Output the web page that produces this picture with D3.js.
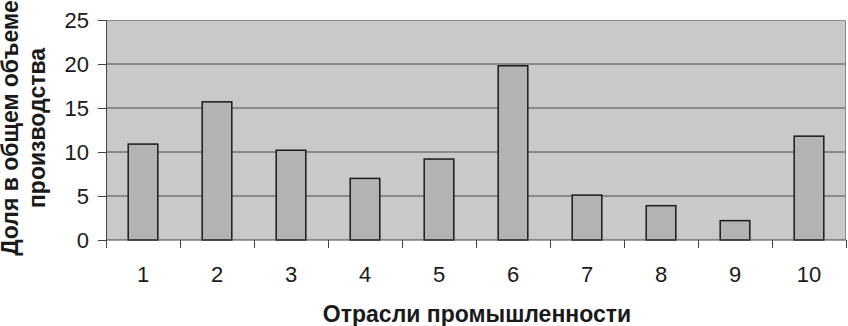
<!DOCTYPE html>
<html>
<head>
<meta charset="utf-8">
<script src="https://cdn.jsdelivr.net/npm/d3@7"></script>
<style>
  html, body { margin: 0; padding: 0; background: #fff; }
  svg text { font-family: "Liberation Sans", Arial, Helvetica, sans-serif; fill: #1a1a1a; }
</style>
</head>
<body>
<svg id="chart" width="848" height="326"></svg>
<script>
// data
const categories = ["1", "2", "3", "4", "5", "6", "7", "8", "9", "10"];
const values = [10.9, 15.7, 10.2, 7.0, 9.2, 19.8, 5.1, 3.9, 2.2, 11.8];
const yTicks = [0, 5, 10, 15, 20, 25];

const svg = d3.select("#chart");
const margin = { top: 20, right: 2, bottom: 86, left: 106 };
const W = +svg.attr("width"), H = +svg.attr("height");
const width = W - margin.left - margin.right;
const height = H - margin.top - margin.bottom;
const g = svg.append("g").attr("transform", `translate(${margin.left},${margin.top})`);

const x = d3.scaleBand().domain(categories).range([0, width]).padding(0);
const y = d3.scaleLinear().domain([0, 25]).range([height, 0]);
const barW = x.bandwidth() * 0.4;

// plot background
g.append("rect")
  .attr("width", width).attr("height", height)
  .attr("fill", "#c9c9c9");

// gridlines
g.append("g")
  .selectAll("line")
  .data(yTicks.filter(d => d > 0 && d < 25))
  .join("line")
  .attr("x1", 0).attr("x2", width)
  .attr("y1", d => y(d)).attr("y2", d => y(d))
  .attr("stroke", "#4d4d4d").attr("stroke-width", 1);

// top + right frame (light gray)
g.append("path")
  .attr("d", `M0,${y(25) + 0.5}H${width - 0.5}V${height}`)
  .attr("fill", "none").attr("stroke", "#8a8a8a").attr("stroke-width", 1);

// bars
g.append("g")
  .selectAll("rect")
  .data(values)
  .join("rect")
  .attr("x", (d, i) => x(categories[i]) + (x.bandwidth() - barW) / 2)
  .attr("y", d => y(d))
  .attr("width", barW)
  .attr("height", d => y(0) - y(d))
  .attr("fill", "#b3b3b3")
  .attr("stroke", "#1a1a1a").attr("stroke-width", 1.5);

// y axis
const yAxis = g.append("g")
  .call(d3.axisLeft(y).tickValues(yTicks).tickSize(8).tickPadding(9));
yAxis.select(".domain").attr("stroke", "#444");
yAxis.selectAll(".tick line").attr("stroke", "#444");
yAxis.selectAll("text").attr("font-size", "22px").attr("fill", "#1a1a1a");

// x axis: ticks on band boundaries, labels at band centres
const xAxisG = g.append("g").attr("transform", `translate(0,${height})`);
xAxisG.append("line")
  .attr("x1", 0).attr("x2", width)
  .attr("stroke", "#444");
xAxisG.selectAll("line.tk")
  .data(categories.concat(["end"]))
  .join("line").attr("class", "tk")
  .attr("x1", (d, i) => i * x.step() + 0.5).attr("x2", (d, i) => i * x.step() + 0.5)
  .attr("y1", 0).attr("y2", 8)
  .attr("stroke", "#444");
xAxisG.selectAll("text")
  .data(categories)
  .join("text")
  .attr("x", d => x(d) + x.bandwidth() / 2)
  .attr("y", 42)
  .attr("text-anchor", "middle")
  .attr("font-size", "22px")
  .text(d => d);

// axis titles
svg.append("text")
  .attr("x", margin.left + width / 2 + 1)
  .attr("y", 322)
  .attr("text-anchor", "middle")
  .attr("font-size", "23px").attr("font-weight", "bold")
  .text("Отрасли промышленности");

const yTitle = svg.append("text")
  .attr("transform", "translate(0,128) rotate(-90)")
  .attr("text-anchor", "middle")
  .attr("font-size", "23px").attr("font-weight", "bold");
yTitle.append("tspan").attr("x", 0).attr("y", 18).text("Доля в общем объеме");
yTitle.append("tspan").attr("x", 0).attr("y", 45).text("производства");
</script>
</body>
</html>
